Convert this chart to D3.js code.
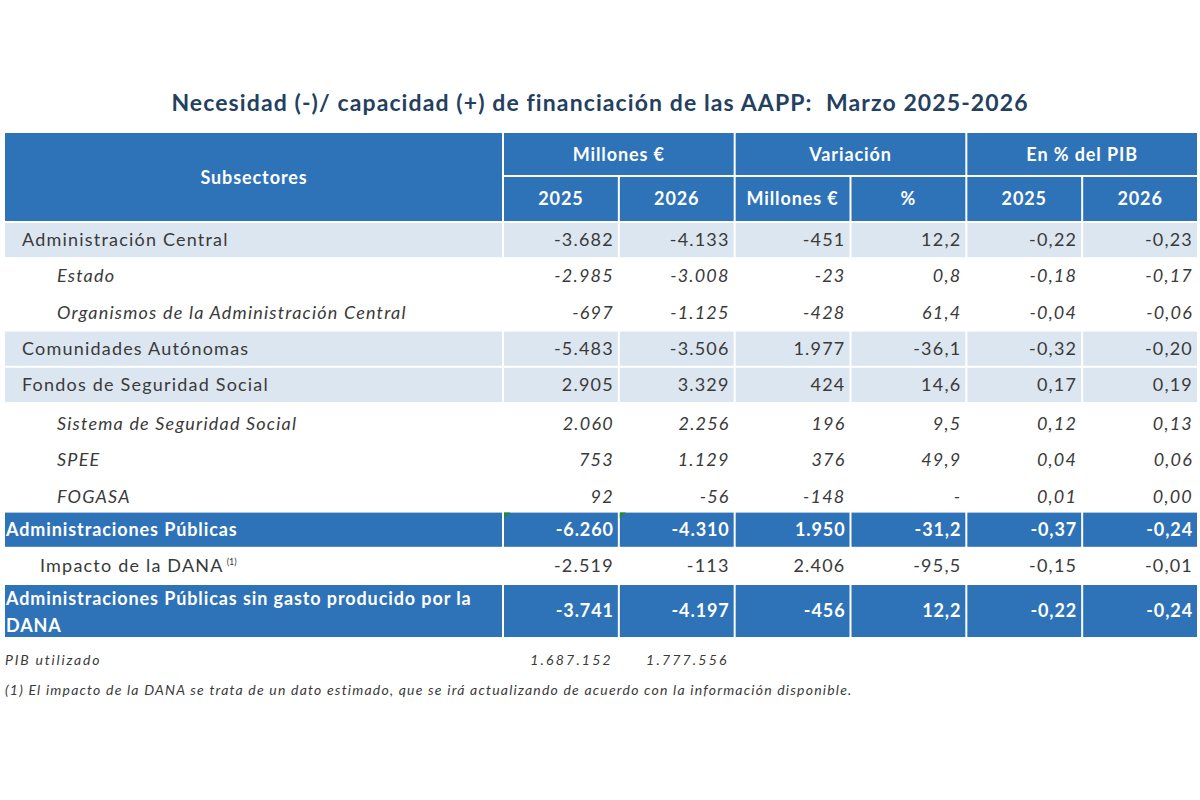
<!DOCTYPE html>
<html>
<head>
<meta charset="utf-8">
<script src="https://cdn.jsdelivr.net/npm/d3@7"></script>
<style>
  body { margin: 0; background: #fff; }
  svg { display: block; }
</style>
</head>
<body>
<div id="chart"></div>
<script>
// table data
const title = 'Necesidad (-)/ capacidad (+) de financiación de las AAPP:  Marzo 2025-2026';
const groupHeaders = ['Millones €', 'Variación', 'En % del PIB'];
const subHeaders = ['2025', '2026', 'Millones €', '%', '2025', '2026'];
const labels = [
    'Administración Central',
    'Estado',
    'Organismos de la Administración Central',
    'Comunidades Autónomas',
    'Fondos de Seguridad Social',
    'Sistema de Seguridad Social',
    'SPEE',
    'FOGASA',
    'Administraciones Públicas',
    'Impacto de la DANA',
    'Administraciones Públicas sin gasto producido por la|DANA'
];
const rowKinds = ['shaded', 'sub', 'sub', 'shaded', 'shaded', 'sub', 'sub', 'sub', 'total', 'note', 'total'];
const mill2025 = [-3682, -2985, -697, -5483, 2905, 2060, 753, 92, -6260, -2519, -3741];
const mill2026 = [-4133, -3008, -1125, -3506, 3329, 2256, 1129, -56, -4310, -113, -4197];
const varMill = [-451, -23, -428, 1977, 424, 196, 376, -148, 1950, 2406, -456];
const varPct = [12.2, 0.8, 61.4, -36.1, 14.6, 9.5, 49.9, null, -31.2, -95.5, 12.2];
const pib2025 = [-0.22, -0.18, -0.04, -0.32, 0.17, 0.12, 0.04, 0.01, -0.37, -0.15, -0.22];
const pib2026 = [-0.23, -0.17, -0.06, -0.20, 0.19, 0.13, 0.06, 0.00, -0.24, -0.01, -0.24];
const pibUsed = [1687152, 1777556];
const footnote = '(1) El impacto de la DANA se trata de un dato estimado, que se irá actualizando de acuerdo con la información disponible.';

const es = d3.formatLocale({ decimal: ',', thousands: '.', grouping: [3], currency: ['', '€'], minus: '-' });
const fInt = es.format(',d');
const f1 = es.format(',.1f');
const f2 = es.format(',.2f');

const columns = [
    { vals: mill2025, fmt: fInt },
    { vals: mill2026, fmt: fInt },
    { vals: varMill, fmt: fInt },
    { vals: varPct, fmt: f1 },
    { vals: pib2025, fmt: f2 },
    { vals: pib2026, fmt: f2 }
];

const W = 1200, H = 800;
const blue = '#2e72b8', shade = '#dce6f1', textCol = '#3a3a3a';
const font = 'Lato, "Open Sans", sans-serif';
const fs = 18, lsReg = 1.2, lsBold = 0.9;

const svg = d3.select('#chart').append('svg').attr('width', W).attr('height', H)
    .style('font-family', font);

// layout
const left = 5, labelRight = 503, right = 1198;
const x = d3.scaleBand().domain(d3.range(6)).range([labelRight, right]);
const hTop = 133, hMid = 176, hBot = 222;
// the first ten data rows share one height, the last (two-line) row is taller
const y = d3.scaleBand().domain(d3.range(10)).range([hBot, 584]);
const rowTop = i => i < 10 ? y(i) : 584;
const rowH = i => i < 10 ? y.bandwidth() : 54;
const gap = 1;

svg.append('text')
    .attr('x', 600).attr('y', 111)
    .attr('text-anchor', 'middle')
    .attr('font-size', 23).attr('font-weight', 700)
    .attr('letter-spacing', 1.1)
    .attr('fill', '#243f60')
    .style('white-space', 'pre')
    .text(title);

// header
const head = svg.append('g')
    .attr('fill', '#fff').attr('font-size', fs).attr('font-weight', 700)
    .attr('letter-spacing', lsBold);
head.append('rect')
    .attr('x', left).attr('y', hTop)
    .attr('width', labelRight - left - gap).attr('height', hBot - hTop - gap)
    .attr('fill', blue);
head.append('text')
    .attr('x', (left + labelRight) / 2).attr('y', (hTop + hBot) / 2 + 6)
    .attr('text-anchor', 'middle')
    .text('Subsectores');

head.selectAll('rect.grp').data(groupHeaders).join('rect')
    .attr('class', 'grp')
    .attr('x', (d, i) => x(i * 2) + gap)
    .attr('y', hTop)
    .attr('width', x.bandwidth() * 2 - 2 * gap)
    .attr('height', hMid - hTop - gap)
    .attr('fill', blue);
head.selectAll('text.grp').data(groupHeaders).join('text')
    .attr('class', 'grp')
    .attr('x', (d, i) => x(i * 2) + x.bandwidth())
    .attr('y', (hTop + hMid) / 2 + 6)
    .attr('text-anchor', 'middle')
    .text(d => d);

head.selectAll('rect.sub').data(subHeaders).join('rect')
    .attr('class', 'sub')
    .attr('x', (d, i) => x(i) + gap)
    .attr('y', hMid + gap)
    .attr('width', x.bandwidth() - 2 * gap)
    .attr('height', hBot - hMid - 2 * gap)
    .attr('fill', blue);
head.selectAll('text.sub').data(subHeaders).join('text')
    .attr('class', 'sub')
    .attr('x', (d, i) => x(i) + x.bandwidth() / 2)
    .attr('y', (hMid + hBot) / 2 + 6)
    .attr('text-anchor', 'middle')
    .text(d => d);

// body rows
const rows = svg.append('g').selectAll('g').data(labels).join('g');

rows.each(function (label, i) {
    const g = d3.select(this);
    const kind = rowKinds[i];
    const top = rowTop(i), h = rowH(i);
    const fill = kind === 'shaded' ? shade : kind === 'total' ? blue : null;
    const color = kind === 'total' ? '#fff' : textCol;
    const weight = kind === 'total' ? 700 : 400;
    const ls = kind === 'total' ? lsBold : lsReg;
    const style = kind === 'sub' ? 'italic' : 'normal';
    const cy = top + h / 2 + 6 + (kind === 'sub' && i > 4 ? 3 : 0);

    if (fill) {
        g.append('rect')
            .attr('x', left).attr('y', top + gap)
            .attr('width', labelRight - left - gap).attr('height', h - 2 * gap)
            .attr('fill', fill);
        g.selectAll('rect.c').data(columns).join('rect')
            .attr('class', 'c')
            .attr('x', (d, j) => x(j) + gap).attr('y', top + gap)
            .attr('width', x.bandwidth() - 2 * gap).attr('height', h - 2 * gap)
            .attr('fill', fill);
    }

    const indent = kind === 'sub' ? 57 : kind === 'note' ? 40 : kind === 'total' ? 6 : 22;
    const lines = label.split('|');
    const t = g.append('text')
        .attr('x', indent)
        .attr('y', lines.length > 1 ? top + 21 : cy)
        .attr('fill', color).attr('font-size', fs)
        .attr('letter-spacing', ls)
        .attr('font-weight', weight).attr('font-style', style);
    lines.forEach((ln, k) => {
        t.append('tspan').attr('x', indent).attr('dy', k === 0 ? 0 : 27).text(ln);
    });
    if (kind === 'note') {
        t.append('tspan').attr('font-size', 9).attr('letter-spacing', 0)
            .attr('dy', -7).attr('dx', 3).text('(1)');
    }

    g.selectAll('text.v').data(columns).join('text')
        .attr('class', 'v')
        .attr('x', (d, j) => x(j) + x.bandwidth() - 5)
        .attr('y', cy)
        .attr('text-anchor', 'end')
        .attr('fill', color).attr('font-size', fs)
        .attr('letter-spacing', ls)
        .attr('font-weight', weight).attr('font-style', style)
        .text(d => d.vals[i] === null ? '-' : d.fmt(d.vals[i]));

    // spreadsheet error markers on the first total row
    if (i === 8) {
        g.selectAll('path.m').data([0, 1]).join('path')
            .attr('class', 'm')
            .attr('d', j => `M${x(j) + gap},${top + gap}h6l-6,6z`)
            .attr('fill', '#1e8a3a');
    }
});

// footer
const foot = svg.append('g').attr('font-style', 'italic').attr('fill', textCol)
    .attr('font-size', 14).attr('letter-spacing', 1.2);
foot.append('text').attr('x', left).attr('y', 665).attr('letter-spacing', 1.8).text('PIB utilizado');
foot.selectAll('text.pib').data(pibUsed).join('text')
    .attr('class', 'pib')
    .attr('x', (d, j) => x(j) + x.bandwidth() - 6)
    .attr('y', 665)
    .attr('text-anchor', 'end')
    .attr('letter-spacing', 2.2)
    .text(d => fInt(d));
foot.append('text').attr('x', left).attr('y', 695).text(footnote);
</script>
</body>
</html>
